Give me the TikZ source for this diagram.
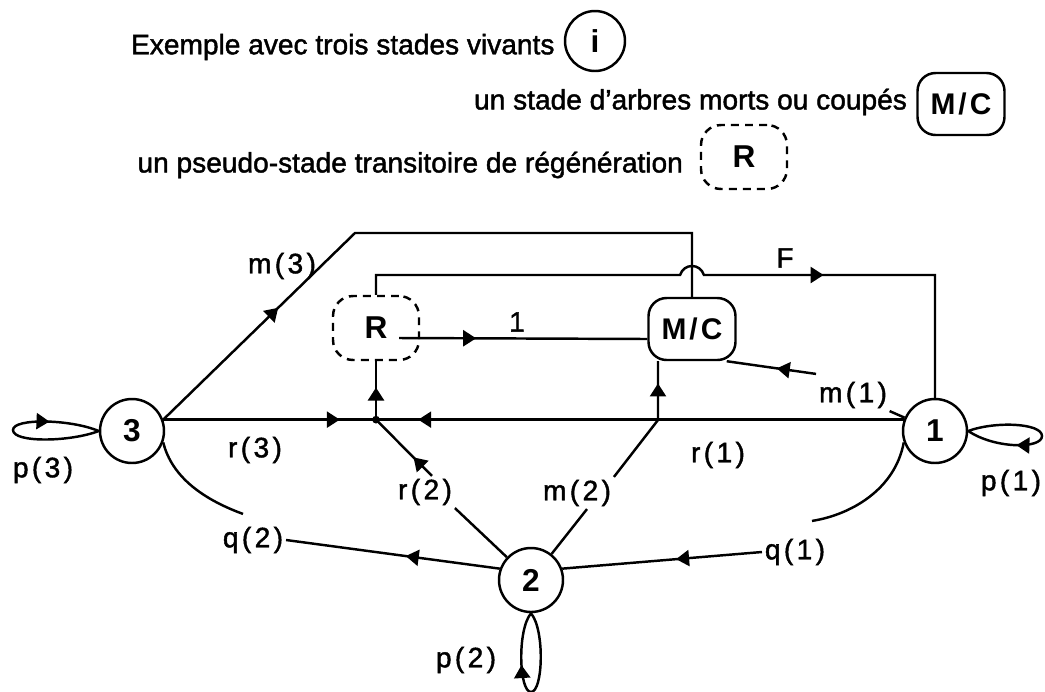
\documentclass[tikz,border=0pt]{standalone}
\usepackage{fontspec}
\setmainfont{Liberation Sans}
\usetikzlibrary{arrows.meta,decorations.markings}

\begin{document}
\begin{tikzpicture}[x=0.02cm,y=-0.02cm,line width=1.4pt,font=\fontsize{16}{19}\selectfont\addfontfeatures{FakeBold=1.5},
  stade/.style={circle,draw,minimum size=1.28cm,inner sep=0pt,font=\fontsize{18}{20}\selectfont\bfseries},
  mort/.style={rectangle,draw,rounded corners=0.36cm,minimum width=1.74cm,minimum height=1.24cm,font=\fontsize{17}{20}\selectfont\bfseries\addfontfeatures{LetterSpace=10}},
  regen/.style={rectangle,draw,dash pattern=on 4.5pt off 3.5pt,rounded corners=0.4cm,minimum width=1.72cm,minimum height=1.28cm,font=\fontsize{18}{20}\selectfont\bfseries},
  lbl/.style={inner sep=1pt,font=\fontsize{16}{19}\selectfont\addfontfeatures{LetterSpace=12,FakeBold=1.5}},
  fl/.style={postaction={decorate},decoration={markings,mark=at position #1 with {\arrow{Triangle[length=0.26cm,width=0.32cm]}}}}]
\useasboundingbox (0,0) rectangle (1045,691);
\node[anchor=west] (t1) at (124,47) {Exemple avec trois stades vivants};
\node[stade,minimum size=1.2cm] (li) at (595,41) {i};
\node[anchor=east] (t2) at (914,102) {un stade d'arbres morts ou coupés};
\node[mort] (lmc) at (961,104) {M/C};
\node[anchor=east] (t3) at (690,165) {un pseudo-stade transitoire de régénération};
\node[regen] (lr) at (744,157) {R};

\node[stade] (n3) at (132,431) {3};
\node[stade] (n1) at (935,431) {1};
\node[stade] (n2) at (531,580) {2};
\node[regen] (R) at (376,328) {R};
\node[mort] (MC) at (692,329) {M/C};
\foreach \nom/\x/\y/\txt in %
{lm3/282/266/m(3),lF/785/258/F,l1/517/322/1,lr3/255/450/r(3),lr1/718/455/r(1),lr2/425/492/r(2),%
lm2/577/493/m(2),lm1/853/395/m(1),lq2/253/540/q(2),lq1/795/552/q(1),lp3/43/470/p(3),lp2/466/660/p(2)} {
   \node[lbl] (\nom) at (\x,\y) {\txt};
}
\node[lbl,anchor=east] (lp1) at (1044,483) {p(1)};

\coordinate (j) at (R.south |- n3.20);
\coordinate (k2) at (658,420);
\coordinate (c3) at (355,233);
\coordinate (eq1) at ([xshift=0.34cm,yshift=0.3cm]lq1.north);
\coordinate (eq2) at ([xshift=-0.2cm,yshift=0.2cm]lq2.north);
\draw[fl=0.83] (n3.20) -- (j);
\draw[fl=0.92] (n1.160) -- (j);
\fill (j) circle[radius=2.2pt];
\draw[fl=0.55] (j) -- (R.south);
\draw (n2) -- (lr2.south east);
\draw[fl=0.33] ([xshift=0.14cm]lr2.north) -- (j);
\draw (n2) -- ([xshift=0.2cm]lm2.south);
\draw[fl=0.83] (lm2.north east) -- (k2) -- (k2 |- MC.south);
\draw[fl=0.24] (n3.20) -- (c3) -- (c3 -| MC.north) -- (MC.north);
\draw[fl=0.67] (R.north) -- (R.north |- 0,275) -- (680,275) .. controls (684,263) and (700,263) .. (704,275) -- (n1.north |- 0,275) -- (n1.north);
\draw[fl=0.31] ([xshift=-0.42cm,yshift=-0.2cm]R.east) -- ([yshift=-0.2cm]MC.west);
\draw (n1) -- (lm1);
\draw[fl=0.44] ([yshift=0.1cm]lm1.north west) -- ([xshift=-0.2cm]MC.south east);
\draw (n1.200) .. controls (895,490) and (850,515) .. (eq1);
\draw[fl=0.43] (lq1.west) -- (n2.20);
\draw (n3.-20) .. controls (172,478) and (205,500) .. (eq2);
\draw[fl=0.44] (n2.160) -- (lq2.east);
\draw[fl=0.72] (n3.west) .. controls (70,442) and (13,443) .. (13,430) .. controls (13,418) and (70,419) .. (n3.west);
\draw[fl=0.68] (n1.east) .. controls (995,421) and (1042,423) .. (1042,436) .. controls (1042,449) and (995,449) .. (n1.east);
\draw[fl=0.68] (n2.south) .. controls (545,630) and (543,692) .. (531,692) .. controls (519,692) and (517,630) .. (n2.south);
\end{tikzpicture}
\end{document}
